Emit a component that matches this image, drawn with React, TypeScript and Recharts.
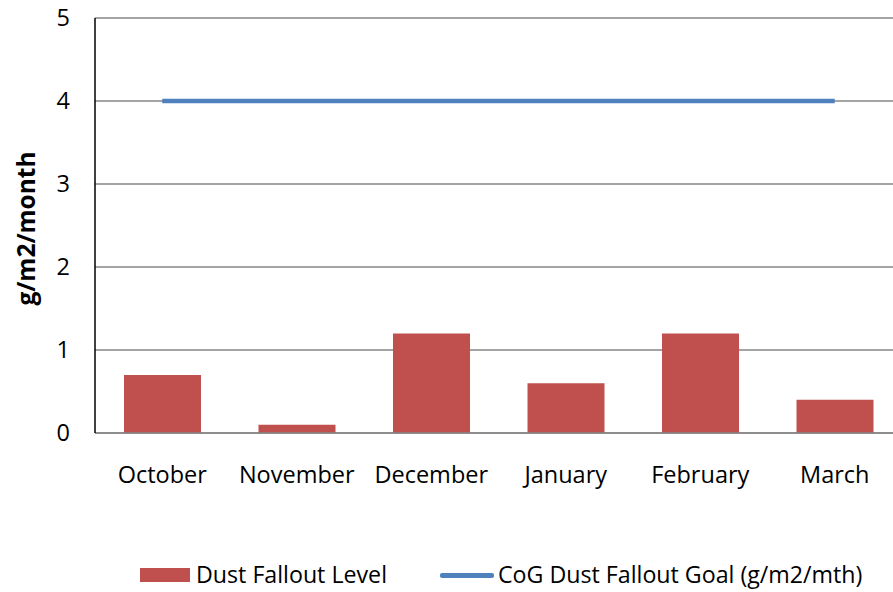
import { ComposedChart, Bar, Line, XAxis, YAxis, CartesianGrid } from "recharts";

const months = ["October", "November", "December", "January", "February", "March"];
const dustFallout = [0.7, 0.1, 1.2, 0.6, 1.2, 0.4];
const cogGoal = [4, 4, 4, 4, 4, 4];
const yTicks = [0, 1, 2, 3, 4, 5];

const data = months.map((m, i) => ({ month: m, dust: dustFallout[i], goal: cogGoal[i] }));

const FONT = "'Open Sans', sans-serif";
const BAR_COLOR = "#C0504D";
const LINE_COLOR = "#4F81BD";

function YLabel({ viewBox }: any) {
  const cy = viewBox.y + viewBox.height / 2 + 3;
  return (
    <text
      x={25}
      y={cy}
      transform={`rotate(-90, 25, ${cy})`}
      textAnchor="middle"
      dominantBaseline="central"
      fontFamily={FONT}
      fontSize={24.5}
      fontWeight="bold"
      fill="#000"
    >
      g/m2/month
    </text>
  );
}

export default function App() {
  return (
    <div style={{ position: "absolute", left: 0, top: 0, width: 893, height: 592, overflow: "hidden", background: "#fff", fontFamily: FONT }}>
      <ComposedChart width={910} height={592} data={data} margin={{ top: 18, right: 8, bottom: 99, left: 0 }}>
        <CartesianGrid vertical={false} stroke="#868686" strokeWidth={1.5} />
        <XAxis
          dataKey="month"
          axisLine={{ stroke: "#868686", strokeWidth: 1.5 }}
          tickLine={false}
          tickMargin={27}
          height={60}
          tick={{ fontSize: 23.5, fill: "#000", fontFamily: FONT }}
          interval={0}
        />
        <YAxis
          domain={[0, 5]}
          ticks={yTicks}
          width={95}
          axisLine={{ stroke: "#000", strokeWidth: 1.5 }}
          tickLine={false}
          tickMargin={19}
          tick={{ fontSize: 23.5, fill: "#000", fontFamily: FONT }}
          label={<YLabel />}
        />
        <Bar dataKey="dust" fill={BAR_COLOR} barSize={77} isAnimationActive={false} />
        <Line type="linear" dataKey="goal" stroke={LINE_COLOR} strokeWidth={4.5} dot={false} isAnimationActive={false} />
      </ComposedChart>
      <div style={{ position: "absolute", left: 140, top: 568, width: 50, height: 14, background: BAR_COLOR }} />
      <div style={{ position: "absolute", left: 196, top: 559, fontSize: 23.2, lineHeight: "30px", color: "#000" }}>Dust Fallout Level</div>
      <div style={{ position: "absolute", left: 440, top: 573, width: 54, height: 4.5, background: LINE_COLOR, borderRadius: 2 }} />
      <div style={{ position: "absolute", left: 498, top: 559, fontSize: 23.2, lineHeight: "30px", color: "#000" }}>CoG Dust Fallout Goal (g/m2/mth)</div>
    </div>
  );
}
